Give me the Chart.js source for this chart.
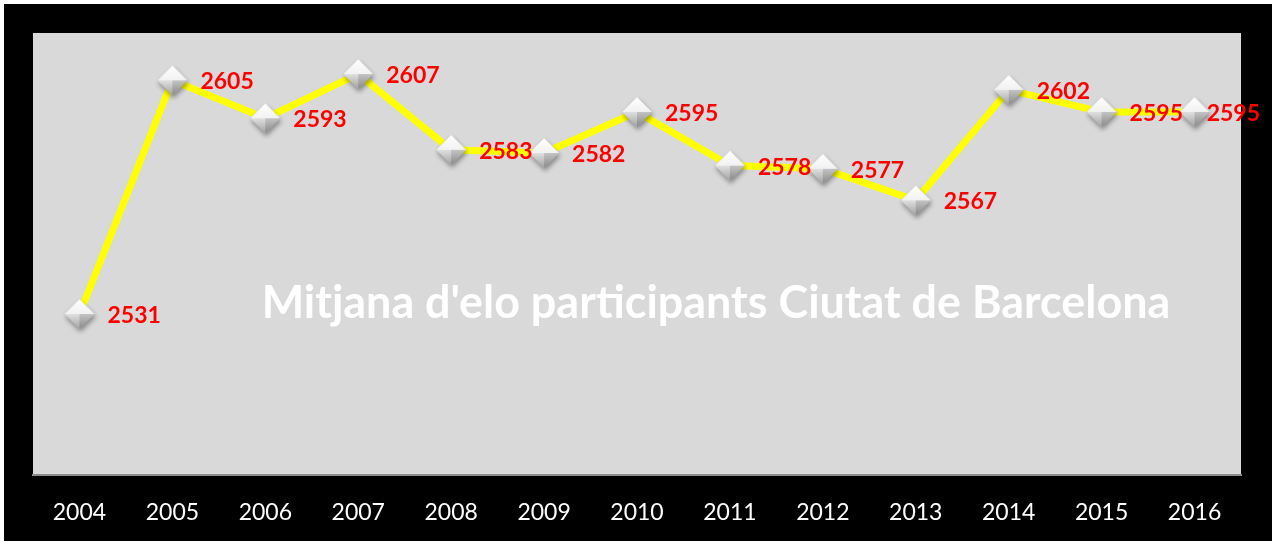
<!DOCTYPE html>
<html>
<head>
<meta charset="utf-8">
<script src="https://cdn.jsdelivr.net/npm/chart.js@4"></script>
<style>
  html, body { margin: 0; padding: 0; background: #fff; }
  #wrap { position: absolute; left: 4px; top: 4px; width: 1268px; height: 537px; background: #000; }
</style>
</head>
<body>
<div id="wrap"><canvas id="eloChart" width="1268" height="537"></canvas></div>
<script>
const years = ['2004', '2005', '2006', '2007', '2008', '2009', '2010', '2011', '2012', '2013', '2014', '2015', '2016'];
const eloAvg = [2531, 2605, 2593, 2607, 2583, 2582, 2595, 2578, 2577, 2567, 2602, 2595, 2595];
const chartTitle = "Mitjana d'elo participants Ciutat de Barcelona";

// diamond marker with bevel shading, drawn once and used as pointStyle
function makeMarker() {
    const c = document.createElement('canvas');
    c.width = 42;
    c.height = 42;
    const g = c.getContext('2d');
    const cx = 21, cy = 21, r = 15;

    const diamond = () => {
        g.beginPath();
        g.moveTo(cx, cy - r);
        g.lineTo(cx + r, cy);
        g.lineTo(cx, cy + r);
        g.lineTo(cx - r, cy);
        g.closePath();
    };

    g.save();
    g.shadowColor = 'rgba(0,0,0,0.4)';
    g.shadowBlur = 5;
    g.shadowOffsetX = 1;
    g.shadowOffsetY = 3;
    diamond();
    g.fillStyle = '#b0b0b0';
    g.fill();
    g.restore();

    // top half
    let grad = g.createLinearGradient(0, cy - r, 0, cy);
    grad.addColorStop(0, '#ffffff');
    grad.addColorStop(1, '#f2f2f2');
    g.beginPath();
    g.moveTo(cx - r, cy);
    g.lineTo(cx, cy - r);
    g.lineTo(cx + r, cy);
    g.closePath();
    g.fillStyle = grad;
    g.fill();

    // lower left facet
    grad = g.createLinearGradient(0, cy, 0, cy + r);
    grad.addColorStop(0, '#e0e0e0');
    grad.addColorStop(1, '#a2a2a2');
    g.beginPath();
    g.moveTo(cx - r, cy);
    g.lineTo(cx, cy);
    g.lineTo(cx, cy + r);
    g.closePath();
    g.fillStyle = grad;
    g.fill();

    // lower right facet
    grad = g.createLinearGradient(0, cy, 0, cy + r);
    grad.addColorStop(0, '#c4c4c4');
    grad.addColorStop(1, '#888888');
    g.beginPath();
    g.moveTo(cx, cy);
    g.lineTo(cx + r, cy);
    g.lineTo(cx, cy + r);
    g.closePath();
    g.fillStyle = grad;
    g.fill();

    return c;
}

const plotBackground = {
    id: 'plotBackground',
    beforeDraw(chart) {
        const { ctx, chartArea: a } = chart;
        ctx.save();
        ctx.fillStyle = '#000';
        ctx.fillRect(0, 0, chart.width, chart.height);
        ctx.fillStyle = '#d9d9d9';
        ctx.fillRect(a.left, a.top, a.right - a.left, a.bottom - a.top);
        ctx.restore();
    }
};

const innerTitle = {
    id: 'innerTitle',
    beforeDatasetsDraw(chart) {
        const ctx = chart.ctx;
        ctx.save();
        ctx.font = 'bold 36px Lato';
        const w = ctx.measureText(chartTitle).width;
        const size = 36 * 908 / w;
        ctx.font = 'bold ' + size.toFixed(1) + 'px Lato';
        ctx.fillStyle = '#fff';
        ctx.textAlign = 'center';
        ctx.textBaseline = 'alphabetic';
        ctx.fillText(chartTitle, 712, 314);
        ctx.restore();
    }
};

const valueLabels = {
    id: 'valueLabels',
    afterDatasetsDraw(chart) {
        const ctx = chart.ctx;
        const meta = chart.getDatasetMeta(0);
        ctx.save();
        ctx.font = 'bold 23px Lato';
        ctx.fillStyle = '#ff0000';
        ctx.textAlign = 'left';
        ctx.textBaseline = 'alphabetic';
        meta.data.forEach((pt, i) => {
            const txt = String(eloAvg[i]);
            const w = ctx.measureText(txt).width;
            // keep label inside the canvas, like the last one in the original
            const x = Math.min(pt.x + 28, chart.width - 12 - w);
            ctx.fillText(txt, x, pt.y + 9);
        });
        ctx.restore();
    }
};

const marker = makeMarker();

new Chart(document.getElementById('eloChart'), {
    type: 'line',
    data: {
        labels: years,
        datasets: [{
            data: eloAvg,
            borderColor: '#ffff00',
            borderWidth: 7,
            tension: 0,
            pointStyle: marker,
            pointRadius: 15,
            pointHoverRadius: 15
        }]
    },
    options: {
        responsive: false,
        animation: false,
        events: [],
        layout: { padding: { left: 29, right: 31, top: 29, bottom: 0 } },
        plugins: {
            legend: { display: false },
            tooltip: { enabled: false }
        },
        scales: {
            x: {
                offset: true,
                grid: { display: true, color: 'rgba(0,0,0,0)', drawTicks: false },
                border: { display: true, color: '#8c8c8c', width: 2 },
                ticks: {
                    color: '#fff',
                    font: { family: 'Lato', size: 23 },
                    padding: 24,
                    maxRotation: 0,
                    autoSkip: false
                },
                afterFit(scale) { scale.height = 66; }
            },
            y: {
                display: false,
                min: 2480,
                max: 2620
            }
        }
    },
    plugins: [plotBackground, innerTitle, valueLabels]
});
</script>
</body>
</html>
